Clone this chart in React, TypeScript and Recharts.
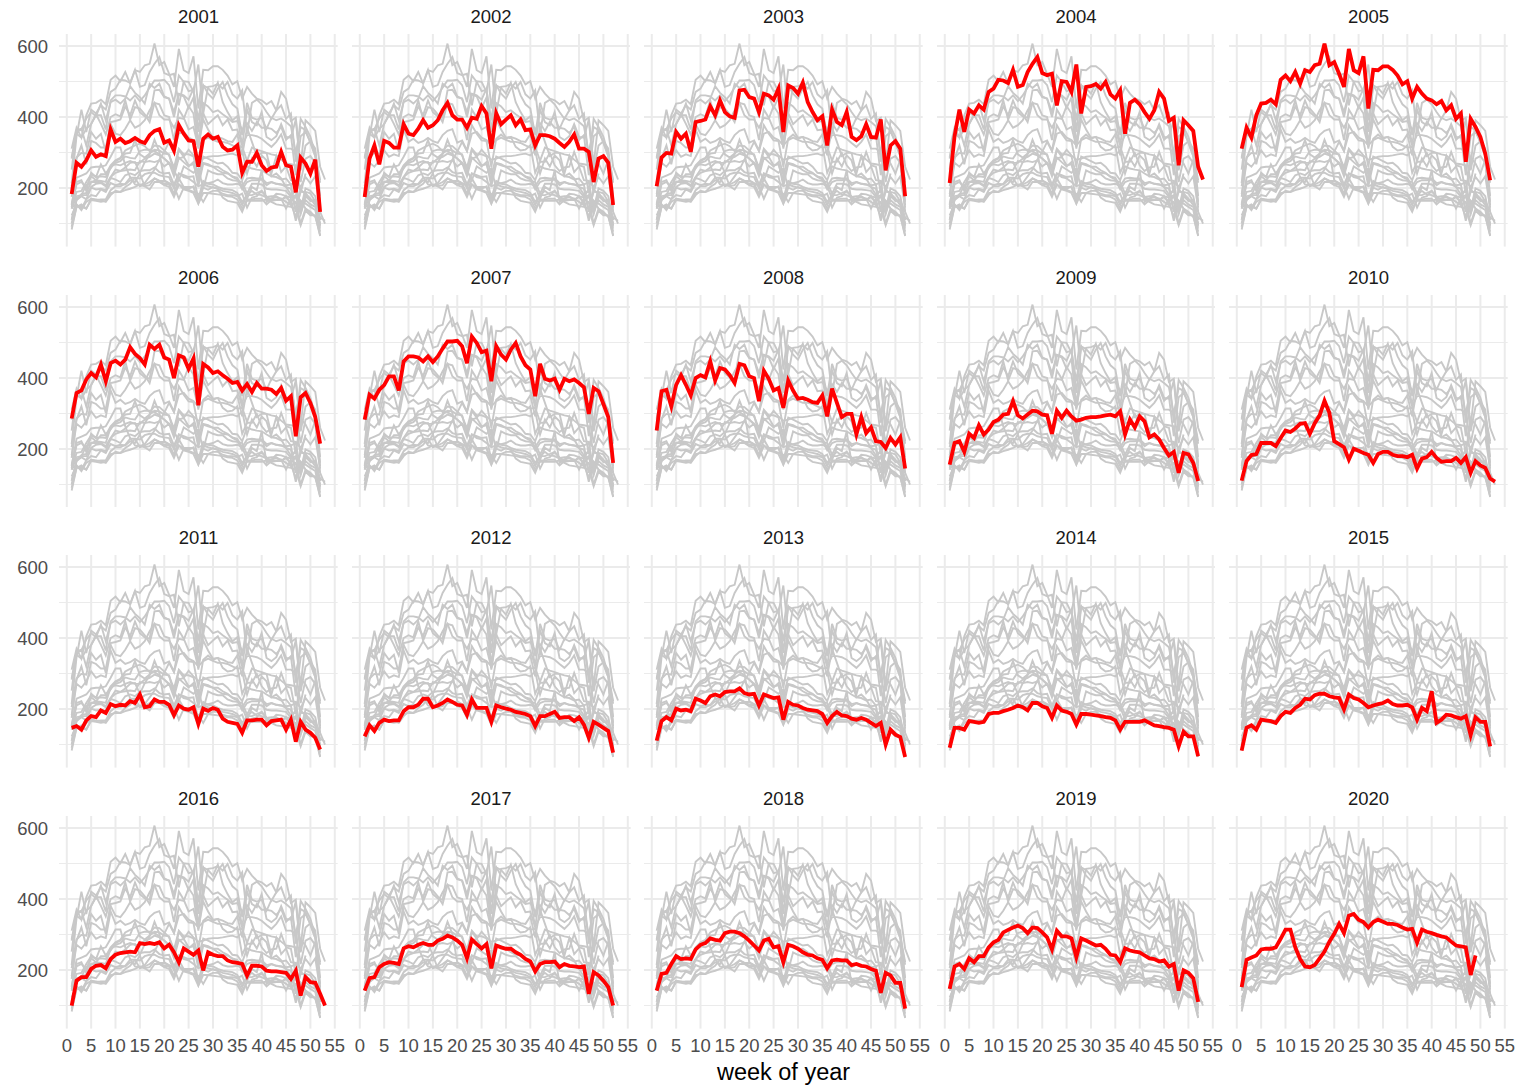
import React from 'react';
import { LineChart, Line, XAxis, YAxis, CartesianGrid } from 'recharts';

// Weekly counts per year, week 1 first
const y2001 = [183, 271, 260, 278, 306, 288, 295, 290, 365, 330, 339, 327, 332, 341, 332, 327, 349, 361, 366, 328, 334, 305, 377, 353, 334, 332, 260, 339, 351, 339, 344, 316, 306, 308, 320, 243, 274, 274, 299, 264, 248, 258, 260, 302, 264, 260, 188, 286, 269, 241, 280, 133];
const y2002 = [175, 283, 320, 267, 333, 327, 314, 314, 380, 353, 349, 367, 391, 370, 377, 391, 419, 440, 405, 393, 393, 370, 398, 395, 431, 410, 311, 411, 380, 393, 405, 377, 393, 363, 365, 320, 349, 349, 346, 339, 327, 316, 330, 351, 311, 311, 302, 217, 283, 290, 271, 152];
const y2003 = [205, 286, 299, 297, 358, 339, 353, 302, 386, 389, 393, 430, 405, 447, 414, 402, 398, 475, 477, 456, 452, 414, 466, 461, 449, 480, 358, 489, 482, 466, 497, 442, 414, 391, 402, 320, 421, 386, 377, 414, 344, 335, 346, 380, 344, 342, 393, 250, 320, 332, 311, 177];
const y2004 = [214, 346, 421, 358, 421, 410, 433, 421, 471, 480, 505, 503, 496, 533, 485, 490, 527, 550, 569, 524, 518, 522, 433, 501, 499, 471, 548, 410, 485, 487, 493, 480, 499, 464, 452, 475, 353, 440, 449, 436, 414, 395, 419, 471, 452, 389, 398, 264, 391, 377, 361, 260, 224];
const y2005 = [311, 370, 342, 405, 438, 440, 449, 436, 505, 517, 501, 527, 494, 532, 527, 546, 550, 607, 546, 555, 522, 485, 592, 532, 524, 571, 424, 533, 532, 543, 543, 533, 517, 492, 501, 452, 485, 466, 452, 447, 436, 445, 419, 433, 395, 410, 274, 395, 372, 344, 297, 222];
const y2006 = [286, 358, 365, 396, 414, 402, 438, 391, 442, 449, 438, 452, 487, 468, 456, 438, 494, 482, 494, 458, 452, 400, 464, 458, 426, 455, 323, 440, 430, 414, 419, 408, 398, 386, 389, 365, 383, 361, 386, 370, 370, 367, 355, 372, 336, 349, 236, 346, 358, 330, 290, 215];
const y2007 = [283, 353, 342, 367, 380, 405, 405, 365, 447, 461, 461, 458, 447, 461, 445, 461, 483, 503, 503, 505, 490, 442, 517, 499, 473, 477, 391, 490, 466, 452, 480, 499, 461, 436, 424, 349, 440, 398, 393, 398, 367, 398, 391, 396, 386, 374, 299, 372, 363, 327, 290, 161];
const y2008 = [252, 363, 367, 320, 381, 408, 381, 351, 400, 408, 402, 447, 393, 428, 424, 408, 386, 440, 436, 405, 400, 335, 421, 398, 365, 372, 316, 393, 365, 342, 344, 339, 332, 330, 351, 292, 370, 330, 290, 299, 299, 241, 290, 245, 261, 222, 220, 203, 231, 213, 233, 145];
const y2009 = [156, 217, 222, 192, 243, 231, 267, 241, 255, 276, 283, 297, 299, 335, 295, 286, 297, 308, 306, 297, 295, 243, 308, 288, 308, 292, 280, 283, 288, 290, 290, 292, 295, 297, 292, 306, 241, 283, 261, 292, 278, 233, 241, 227, 203, 182, 192, 133, 189, 185, 161, 110];
const y2010 = [111, 166, 183, 186, 217, 217, 217, 208, 231, 252, 248, 258, 271, 273, 243, 273, 295, 336, 302, 222, 214, 205, 170, 201, 195, 189, 184, 161, 186, 192, 192, 184, 180, 180, 177, 184, 145, 173, 177, 192, 175, 164, 166, 166, 175, 161, 177, 133, 166, 154, 147, 117, 108];
const y2011 = [147, 152, 142, 168, 180, 177, 196, 189, 214, 208, 212, 210, 222, 217, 241, 205, 208, 227, 220, 220, 212, 183, 210, 201, 198, 205, 158, 201, 195, 203, 198, 173, 164, 161, 158, 133, 168, 168, 170, 170, 154, 166, 168, 170, 142, 170, 108, 164, 142, 133, 119, 86];
const y2012 = [123, 154, 138, 161, 170, 166, 168, 168, 194, 205, 205, 212, 229, 229, 205, 210, 217, 227, 220, 212, 210, 183, 227, 203, 203, 203, 164, 210, 205, 201, 198, 192, 189, 186, 180, 152, 180, 180, 186, 192, 175, 177, 177, 166, 177, 156, 119, 164, 156, 147, 138, 77];
const y2013 = [111, 166, 177, 168, 201, 196, 198, 194, 229, 224, 217, 236, 241, 236, 248, 250, 250, 258, 245, 241, 243, 210, 241, 236, 231, 233, 170, 220, 212, 210, 203, 198, 196, 194, 186, 161, 180, 192, 182, 180, 173, 170, 175, 170, 161, 152, 161, 100, 142, 128, 121, 65];
const y2014 = [91, 147, 147, 142, 166, 164, 161, 164, 186, 189, 189, 194, 198, 203, 210, 205, 196, 217, 217, 208, 203, 175, 210, 196, 192, 186, 156, 186, 186, 184, 182, 180, 177, 175, 168, 142, 164, 164, 164, 164, 168, 161, 154, 152, 149, 147, 142, 95, 136, 123, 123, 67];
const y2015 = [83, 147, 154, 142, 170, 168, 166, 161, 180, 192, 189, 203, 212, 229, 227, 239, 243, 243, 236, 233, 231, 199, 241, 231, 227, 217, 205, 210, 214, 217, 224, 214, 210, 210, 212, 205, 170, 203, 194, 250, 161, 170, 184, 182, 177, 173, 180, 126, 177, 164, 164, 95];
const y2016 = [100, 170, 180, 180, 203, 212, 214, 205, 231, 243, 248, 250, 252, 250, 276, 273, 276, 273, 278, 261, 271, 250, 222, 261, 252, 243, 255, 199, 250, 243, 239, 239, 227, 222, 220, 217, 184, 212, 212, 210, 198, 196, 196, 194, 192, 175, 198, 128, 180, 166, 164, 133, 100];
const y2017 = [142, 177, 180, 208, 217, 222, 220, 217, 261, 267, 264, 271, 276, 271, 271, 283, 288, 297, 292, 283, 271, 233, 286, 273, 261, 273, 205, 269, 264, 260, 260, 250, 243, 231, 224, 196, 217, 222, 222, 224, 208, 217, 212, 210, 208, 210, 133, 194, 185, 170, 152, 100];
const y2018 = [142, 189, 192, 217, 239, 231, 233, 231, 258, 271, 276, 289, 285, 283, 304, 308, 308, 304, 295, 283, 269, 255, 283, 288, 264, 267, 222, 271, 267, 260, 250, 243, 241, 233, 229, 205, 227, 229, 227, 227, 214, 217, 212, 210, 203, 198, 136, 192, 185, 164, 164, 91];
const y2019 = [147, 210, 217, 203, 233, 222, 239, 239, 264, 278, 285, 306, 313, 320, 325, 318, 304, 320, 318, 306, 292, 258, 311, 295, 295, 289, 236, 289, 283, 276, 269, 271, 260, 243, 241, 222, 261, 255, 252, 250, 241, 233, 231, 224, 227, 210, 217, 142, 199, 192, 177, 110];
const y2020 = [152, 229, 235, 241, 258, 260, 260, 264, 288, 314, 314, 264, 231, 210, 208, 214, 233, 252, 280, 302, 330, 304, 353, 358, 342, 335, 320, 335, 342, 336, 330, 330, 327, 320, 314, 316, 277, 314, 308, 304, 299, 295, 292, 280, 269, 267, 264, 186, 241];

const YEARS = [2001, 2002, 2003, 2004, 2005, 2006, 2007, 2008, 2009, 2010, 2011, 2012, 2013, 2014, 2015, 2016, 2017, 2018, 2019, 2020];
const SERIES = [y2001, y2002, y2003, y2004, y2005, y2006, y2007, y2008, y2009, y2010, y2011, y2012, y2013, y2014, y2015, y2016, y2017, y2018, y2019, y2020];

const WEEK_TICKS = [0, 5, 10, 15, 20, 25, 30, 35, 40, 45, 50, 55];
const COUNT_TICKS = [200, 400, 600];
const COUNT_MINOR = [100, 300, 500];

// one row per week, one column per year (missing weeks stay empty)
const rows = Array.from({ length: 53 }, (_, i) => {
  const row: Record<string, number> = { week: i + 1 };
  YEARS.forEach((year, k) => {
    const v = SERIES[k][i];
    if (v !== undefined) row[String(year)] = v;
  });
  return row;
});

// facet grid geometry
const COLS = 5;
const COL_STEP = 292.5;
const ROW_STEP = 260.7;
const PLOT_X0 = 59.2;
const PLOT_Y0 = 34;
const PLOT_W = 278.7;
const PLOT_H = 212.6;
const Y_AXIS_W = 59;
const X_AXIS_H = 34;
const RIGHT_PAD = 16; // room for the last week label

const FONT = '"Liberation Sans", Arial, sans-serif';
const GRID = '#EBEBEB';
const TICK_STYLE = { fill: '#4D4D4D', fontSize: 18.5 };

function Panel({ year, index }: { year: number; index: number }) {
  const col = index % COLS;
  const row = Math.floor(index / COLS);
  const showY = col === 0;
  const showX = row === 3;
  const plotLeft = PLOT_X0 + col * COL_STEP;
  const plotTop = PLOT_Y0 + row * ROW_STEP;
  const padRight = showX ? RIGHT_PAD : 0;

  return (
    <>
      <div
        style={{
          position: 'absolute',
          left: plotLeft,
          top: plotTop - 30,
          width: PLOT_W,
          lineHeight: '26px',
          textAlign: 'center',
          fontSize: 18.5,
          color: '#1A1A1A',
        }}
      >
        {year}
      </div>
      <div style={{ position: 'absolute', left: plotLeft - (showY ? Y_AXIS_W : 0), top: plotTop }}>
        <LineChart
          width={PLOT_W + (showY ? Y_AXIS_W : 0) + padRight}
          height={PLOT_H + (showX ? X_AXIS_H : 0)}
          data={rows}
          margin={{ top: 0, right: padRight, bottom: 0, left: 0 }}
        >
          <CartesianGrid horizontalValues={COUNT_MINOR} vertical={false} stroke={GRID} strokeWidth={1.1} />
          <CartesianGrid horizontalValues={COUNT_TICKS} verticalValues={WEEK_TICKS} stroke={GRID} strokeWidth={2} />
          <XAxis
            type="number"
            dataKey="week"
            domain={[-1.6, 55.6]}
            allowDataOverflow
            ticks={WEEK_TICKS}
            interval={0}
            hide={!showX}
            height={X_AXIS_H}
            axisLine={false}
            tickLine={false}
            tickSize={0}
            tickMargin={10}
            tick={TICK_STYLE}
          />
          <YAxis
            type="number"
            domain={[35, 634]}
            allowDataOverflow
            ticks={COUNT_TICKS}
            interval={0}
            hide={!showY}
            width={Y_AXIS_W}
            axisLine={false}
            tickLine={false}
            tickSize={0}
            tickMargin={11}
            tick={TICK_STYLE}
          />
          {YEARS.map((y) => (
            <Line
              key={y}
              type="linear"
              dataKey={String(y)}
              stroke="#C8C8C8"
              strokeWidth={1.9}
              dot={false}
              activeDot={false}
              isAnimationActive={false}
            />
          ))}
          <Line
            type="linear"
            dataKey={String(year)}
            stroke="#FF0000"
            strokeWidth={3.8}
            dot={false}
            activeDot={false}
            isAnimationActive={false}
          />
        </LineChart>
      </div>
    </>
  );
}

export default function App() {
  return (
    <div
      style={{
        position: 'absolute',
        left: 0,
        top: 0,
        width: 1525,
        height: 1086,
        background: '#FFFFFF',
        fontFamily: FONT,
        overflow: 'hidden',
      }}
    >
      {YEARS.map((year, i) => (
        <Panel key={year} year={year} index={i} />
      ))}
      <div
        style={{
          position: 'absolute',
          left: PLOT_X0,
          width: 4 * COL_STEP + PLOT_W,
          top: 1057,
          lineHeight: '30px',
          textAlign: 'center',
          fontSize: 23.5,
          color: '#000000',
        }}
      >
        week of year
      </div>
    </div>
  );
}
